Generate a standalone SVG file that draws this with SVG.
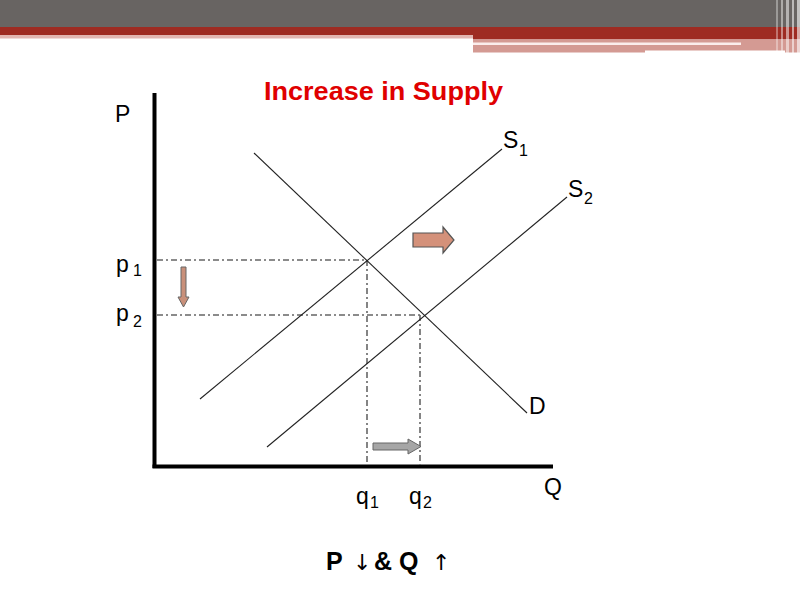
<svg xmlns="http://www.w3.org/2000/svg" width="800" height="600" viewBox="0 0 800 600">
<style>
.lbl{font-family:"Liberation Sans",Arial,sans-serif;font-size:23px;fill:#000}
.sub{font-family:"Liberation Sans",Arial,sans-serif;font-size:16px;fill:#000}
.curve{stroke:#222;stroke-width:1.1;fill:none}
.guide{stroke:#666;stroke-width:1.6;stroke-dasharray:6 3 2 3;fill:none}
.axis{stroke:#000;stroke-width:4;fill:none}
</style>
<rect width="800" height="600" fill="#fff"/>
<g id="header">
<rect x="0" y="0" width="800" height="27" fill="#686462"/>
<rect x="0" y="27" width="800" height="8" fill="#9E2B22"/>
<rect x="0" y="35" width="473" height="3.5" fill="#E2B6B1"/>
<rect x="473" y="35" width="327" height="4.5" fill="#9E2B22"/>
<rect x="473" y="39.5" width="327" height="13" fill="#D49A93"/>
<rect x="473" y="42.5" width="268" height="2.5" fill="#FBEDEC"/>
<rect x="645" y="50.5" width="140" height="2.5" fill="#fff"/>
<g fill="#fff">
<rect x="776" y="0" width="2" height="55" opacity="0.35"/>
<rect x="781" y="0" width="2" height="55" opacity="0.45"/>
<rect x="786" y="0" width="3" height="58" opacity="0.5"/>
<rect x="792" y="0" width="2" height="58" opacity="0.55"/>
<rect x="797" y="0" width="3" height="60" opacity="0.6"/>
</g>
</g>
<text x="264" y="100" font-family="'Liberation Sans',Arial,sans-serif" font-weight="bold" font-size="25" fill="#E00000" textLength="239" lengthAdjust="spacingAndGlyphs">Increase in Supply</text>
<g id="axes">
<line class="axis" x1="154.5" y1="93" x2="154.5" y2="468"/>
<line class="axis" x1="152.5" y1="466.5" x2="553" y2="466.5"/>
<text class="lbl" x="115" y="122">P</text>
<text class="lbl" x="544" y="495">Q</text>
</g>
<g id="connectors">
<line class="guide" x1="157" y1="260" x2="366" y2="260"/>
<line class="guide" x1="157" y1="315" x2="421" y2="315"/>
<line class="guide" x1="367" y1="260" x2="367" y2="465"/>
<line class="guide" x1="420" y1="315" x2="420" y2="465"/>
</g>
<g id="demand">
<line class="curve" x1="254" y1="153" x2="527" y2="413"/>
<text class="lbl" x="529" y="414">D</text>
</g>
<g id="supply1">
<line class="curve" x1="200" y1="399" x2="502" y2="149"/>
<text class="lbl" x="503" y="148">S</text>
<text class="sub" x="519" y="156">1</text>
</g>
<g id="supply2">
<line class="curve" x1="267" y1="447" x2="567" y2="197"/>
<text class="lbl" x="568" y="197">S</text>
<text class="sub" x="584" y="204">2</text>
</g>
<g id="price-labels">
<text class="lbl" x="116" y="272">p</text>
<text class="sub" x="133" y="276">1</text>
<text class="lbl" x="116" y="321">p</text>
<text class="sub" x="133" y="327">2</text>
</g>
<g id="qty-labels">
<text class="lbl" x="356" y="504">q</text>
<text class="sub" x="370" y="508">1</text>
<text class="lbl" x="409" y="504">q</text>
<text class="sub" x="423" y="508">2</text>
</g>
<g id="shift-arrow">
<polygon points="413,233 443,233 443,227 454,240 443,253 443,247 413,247" fill="#D4917A" stroke="#555" stroke-width="1.2"/>
</g>
<g id="price-arrow">
<polygon points="181,267 186,267 186,297 189,297 183.5,307 178,297 181,297" fill="#C9907A" stroke="#666" stroke-width="1"/>
</g>
<g id="qty-arrow">
<polygon points="373,443 408,443 408,439 421,446.5 408,454 408,450 373,450" fill="#A6A6A6" stroke="#666" stroke-width="1"/>
</g>
<g id="summary" font-family="'Liberation Sans',Arial,sans-serif" font-size="25" font-weight="bold">
<text x="326" y="570">P</text>
<text x="353" y="570" font-weight="normal" font-family="'DejaVu Sans',sans-serif" font-size="22">↓</text>
<text x="374" y="570">&amp;</text>
<text x="399" y="570">Q</text>
<text x="432" y="570" font-weight="normal" font-family="'DejaVu Sans',sans-serif" font-size="22">↑</text>
</g>
</svg>
